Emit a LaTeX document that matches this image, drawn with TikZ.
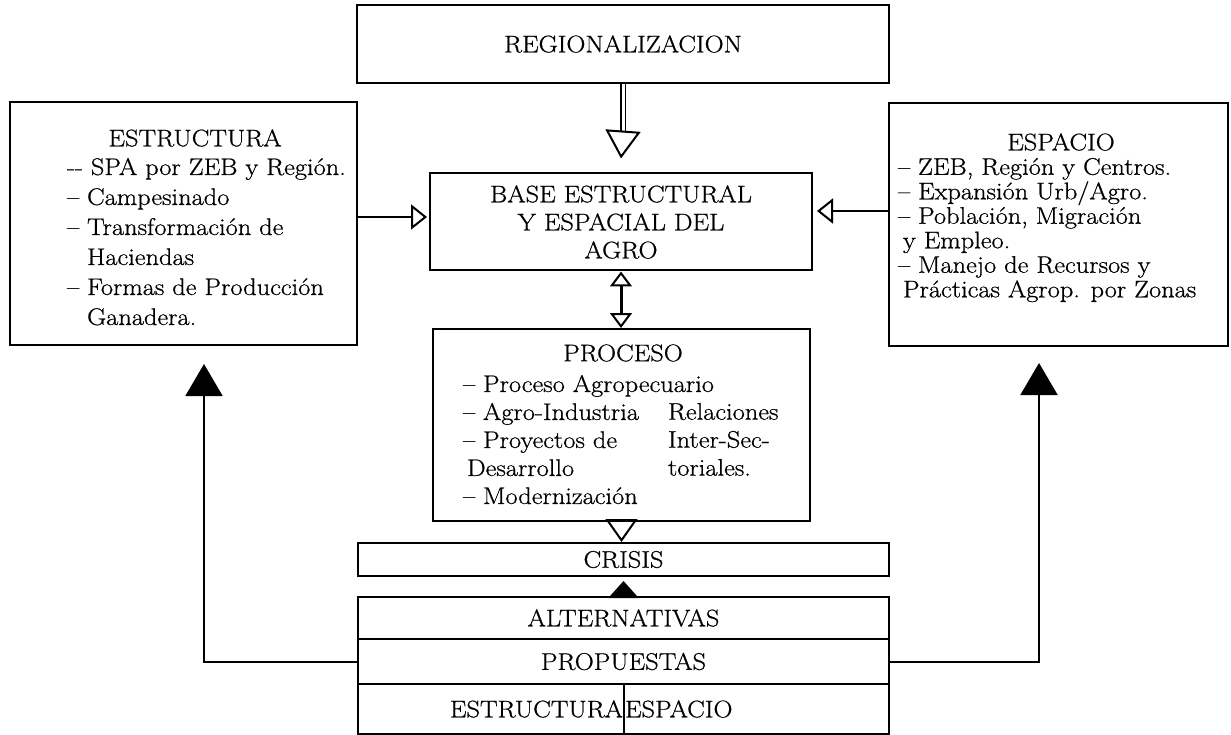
\documentclass[tikz,border=0pt]{standalone}
\usepackage{fontspec}
\setmainfont{Latin Modern Roman}[FakeBold=0.7, FakeStretch=1.1]
\usetikzlibrary{arrows.meta}
\def\rulewidth{2pt}

\begin{document}
\begin{tikzpicture}[x=1pt, y=-1pt, line width=\rulewidth, font=\fontsize{24}{28}\selectfont]
    \tikzstyle{box}=[draw, rectangle, inner sep=0pt]
    \tikzstyle{head}=[inner sep=0pt]
    \tikzstyle{items}=[inner sep=0pt, align=left, anchor=north west]
    \tikzstyle{opentip}=[-{Triangle[open, length=16pt, width=25pt]}]
    \tikzstyle{filledtip}=[-{Triangle[length=32pt, width=37pt]}]

    \useasboundingbox (0,0) rectangle (1231,735);

    % Draw the top box and the central boxes
    \node[box, minimum width=532pt, minimum height=78pt] (reg) at (623,44) {REGIONALIZACION};
    \node[box, minimum width=382pt, minimum height=97pt, align=center] (base) at (621,222)
        {BASE ESTRUCTURAL\\Y ESPACIAL DEL\\AGRO};
    \node[box, minimum width=377pt, minimum height=192pt] (proc) at (621.5,425) {};
    \node[head] (procH) at (623,353) {PROCESO};
    \node[items] (procL) at (462,374) {\textendash{} Proceso Agropecuario\\
        \textendash{} Agro-Industria\\ \textendash{} Proyectos de\\
        \hspace{4pt}Desarrollo\\ \textendash{} Modernización};
    \node[items] (procR) at (667,402) {Relaciones\\Inter-Sec-\\toriales.};

    % Draw the side boxes
    \node[box, minimum width=347pt, minimum height=243pt] (estr) at (183.5,223.5) {};
    \node[head] (estrH) at (195,138) {ESTRUCTURA};
    \node[items, font=\fontsize{24}{30}\selectfont] (estrL) at (66,157)
        {-{}- SPA por ZEB y Región.\\ \textendash{} Campesinado\\
        \textendash{} Transformación de\\ \phantom{\textendash{} }Haciendas\\
        \textendash{} Formas de Producción\\ \phantom{\textendash{} }Ganadera.};
    \node[box, minimum width=339pt, minimum height=243pt] (esp) at (1058.5,224.5) {};
    \node[head] (espH) at (1061,142) {ESPACIO};
    \node[items, font=\fontsize{24}{24.5}\selectfont] (espL) at (897,157)
        {\textendash{} ZEB, Región y Centros.\\ \textendash{} Expansión Urb/Agro.\\
        \textendash{} Población, Migración\\ \hspace{5pt}y Empleo.\\
        \textendash{} Manejo de Recursos y\\ \hspace{5pt}Prácticas Agrop. por Zonas};

    % Draw the bottom stack
    \node[box, minimum width=531pt, minimum height=33pt] (crisis) at (623.5,559.5) {CRISIS};
    \node[box, minimum width=531pt, minimum height=42pt] (alt) at (623.5,618) {ALTERNATIVAS};
    \node[box, minimum width=531pt, minimum height=45pt] (prop) at (623.5,661.5) {PROPUESTAS};
    \node[box, minimum width=266pt, minimum height=50pt, text width=264pt, align=right]
        (estrB) at (491,709) {ESTRUCTURA};
    \node[box, minimum width=265pt, minimum height=50pt, text width=263pt, align=left]
        (espB) at (756.5,709) {ESPACIO};

    % Connect the boxes
    \draw[double, double distance=3pt, line width=1.5pt] (reg.south) -- ++(0,47) coordinate (regstem);
    \draw[-{Triangle[open, length=28pt, width=35pt]}] (regstem) -- ([yshift=14pt]base.north);
    \coordinate (baseW) at ([yshift=5pt]base.west);
    \coordinate (baseE) at ([yshift=11pt]base.east);
    \draw[opentip, shorten >=2pt] (estr.east |- baseW) -- (baseW);
    \draw[opentip, shorten >=4pt] (esp.west |- baseE) -- (baseE);
    \draw[line width=3pt, {Triangle[open, length=15pt, width=22pt, line width=2pt]}-{Triangle[open, length=15pt, width=22pt, line width=2pt]}]
        (base.south) -- (base.south |- proc.north);
    \draw[-{Triangle[open, length=23pt, width=32pt]}] (proc.south) -- (proc.south |- crisis.north);
    \draw[-{Triangle[length=17pt, width=30pt]}, shorten >=4pt] (alt.north) -- (crisis.south);

    % Feed the proposals back to both sides
    \draw[filledtip, shorten >=18pt] (prop.west) -| ([xshift=20.5pt]estr.south);
    \draw[filledtip, shorten >=16pt] (prop.east) -| ([xshift=-19.5pt]esp.south);
\end{tikzpicture}
\end{document}
